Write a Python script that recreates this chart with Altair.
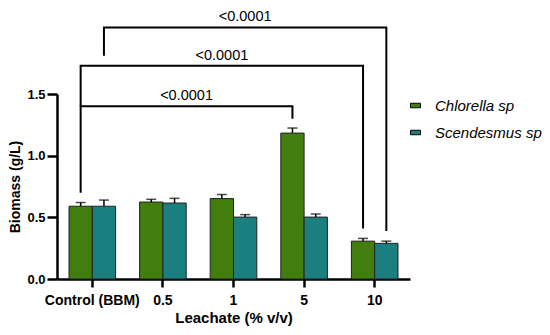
import altair as alt
import pandas as pd

categories = ["Control (BBM)", "0.5", "1", "5", "10"]
series = ["Chlorella sp", "Scendesmus sp"]
chlorella = [0.59, 0.624, 0.652, 1.183, 0.307]
chlorella_err = [0.03, 0.022, 0.033, 0.041, 0.022]
scendesmus = [0.59, 0.616, 0.502, 0.502, 0.289]
scendesmus_err = [0.05, 0.038, 0.02, 0.025, 0.018]

# brackets: (left category, left series, left bottom, right category, right series, right bottom, top, label)
bracket_left_cat = ["Control (BBM)", "Control (BBM)", "Control (BBM)"]
bracket_left_series = ["Chlorella sp", "Chlorella sp", "Scendesmus sp"]
bracket_left_bottom = [0.70, 1.40, 1.81]
bracket_right_cat = ["5", "10", "10"]
bracket_right_series = ["Chlorella sp", "Chlorella sp", "Scendesmus sp"]
bracket_right_bottom = [1.30, 0.41, 0.39]
bracket_top = [1.40, 1.73, 2.04]
bracket_labels = ["<0.0001", "<0.0001", "<0.0001"]

GREEN = "#417e0e"
TEAL = "#1b7f80"
FONT = "Liberation Sans"

rows = []
for i, c in enumerate(categories):
    rows.append({"cat": c, "series": series[0], "val": chlorella[i], "hi": chlorella[i] + chlorella_err[i]})
    rows.append({"cat": c, "series": series[1], "val": scendesmus[i], "hi": scendesmus[i] + scendesmus_err[i]})
df = pd.DataFrame(rows)

# half distance between the two bar centres, in category-step units
half = 0.165
def xpos(cat, ser):
    return categories.index(cat) + (-half if ser == series[0] else half)

brows, lrows = [], []
for b in range(len(bracket_top)):
    xl = xpos(bracket_left_cat[b], bracket_left_series[b])
    xr = xpos(bracket_right_cat[b], bracket_right_series[b])
    pts = [(xl, bracket_left_bottom[b]), (xl, bracket_top[b]), (xr, bracket_top[b]), (xr, bracket_right_bottom[b])]
    for k, (xx, yy) in enumerate(pts):
        brows.append({"b": b, "k": k, "x": xx, "y": yy})
    lrows.append({"x": (xl + xr) / 2, "y": bracket_top[b], "label": bracket_labels[b]})
bdf = pd.DataFrame(brows)
ldf = pd.DataFrame(lrows)

yscale = alt.Scale(domain=[0, 1.5], nice=False)
xband = alt.X(
    "cat:N", sort=categories, title="Leachate (% v/v)",
    scale=alt.Scale(paddingInner=0.34, paddingOuter=0.17),
    axis=alt.Axis(labelAngle=0, labelFont=FONT, labelFontWeight="bold", labelFontSize=14,
                  labelColor="black", titleFont=FONT, titleFontWeight="bold", titleFontSize=15,
                  titleColor="black", domainColor="black", domainWidth=2.5, tickColor="black",
                  tickWidth=2.5, tickSize=8, labelPadding=6, titlePadding=3),
)
xoff = alt.XOffset("series:N", sort=series, scale=alt.Scale(paddingInner=0, paddingOuter=0))
yax = alt.Axis(values=[0, 0.5, 1.0, 1.5], format=".1f", grid=False, labelFont=FONT,
               labelFontWeight="bold", labelFontSize=13, labelColor="black", titleFont=FONT,
               titleFontWeight="bold", titleFontSize=14, titleColor="black", domainColor="black",
               domainWidth=2.5, tickColor="black", tickWidth=2.5, tickSize=10, labelPadding=2,
               titlePadding=4)

base = alt.Chart(df)
bars = base.mark_bar(stroke="#222222", strokeWidth=1).encode(
    x=xband, xOffset=xoff,
    y=alt.Y("val:Q", scale=yscale, title="Biomass (g/L)", axis=yax),
    color=alt.Color("series:N", sort=series,
                    scale=alt.Scale(domain=series, range=[GREEN, TEAL]),
                    legend=alt.Legend(title=None, orient="none", legendX=351, legendY=4,
                                      symbolType="M-1,-0.45H1V0.45H-1Z", symbolSize=100,
                                      symbolStrokeColor="black", symbolStrokeWidth=1,
                                      labelFont=FONT, labelFontSize=15, labelFontStyle="italic",
                                      labelColor="black", labelOffset=12, rowPadding=11,
                                      padding=0)),
)
err = base.mark_rule(color="black", strokeWidth=1.5).encode(
    x=alt.X("cat:N", sort=categories), xOffset=xoff,
    y=alt.Y("val:Q", scale=yscale), y2="hi:Q",
)
caps = base.mark_tick(color="black", thickness=1.5, size=10, orient="horizontal").encode(
    x=alt.X("cat:N", sort=categories), xOffset=xoff,
    y=alt.Y("hi:Q", scale=yscale),
)
band_layer = alt.layer(bars, err, caps)

qx = alt.Scale(domain=[-0.5, len(categories) - 0.5], nice=False, zero=False)
brk = alt.Chart(bdf).mark_line(color="black", strokeWidth=2, strokeJoin="miter").encode(
    x=alt.X("x:Q", scale=qx, axis=None),
    y=alt.Y("y:Q", scale=yscale),
    detail="b:N", order="k:Q",
)
lab = alt.Chart(ldf).mark_text(font=FONT, fontSize=14.5, color="black", baseline="alphabetic", dy=-6).encode(
    x=alt.X("x:Q", scale=qx, axis=None),
    y=alt.Y("y:Q", scale=yscale),
    text="label:N",
)
q_layer = alt.layer(brk, lab)

chart = alt.layer(band_layer, q_layer).resolve_scale(x="independent").properties(
    width=353, height=185,
    autosize=alt.AutoSizeParams(type="none"),
    padding={"left": 49, "top": 86, "right": 132, "bottom": 50},
).configure_view(stroke=None)

chart.save("out.html", embed_options={"renderer": "svg", "actions": False})
